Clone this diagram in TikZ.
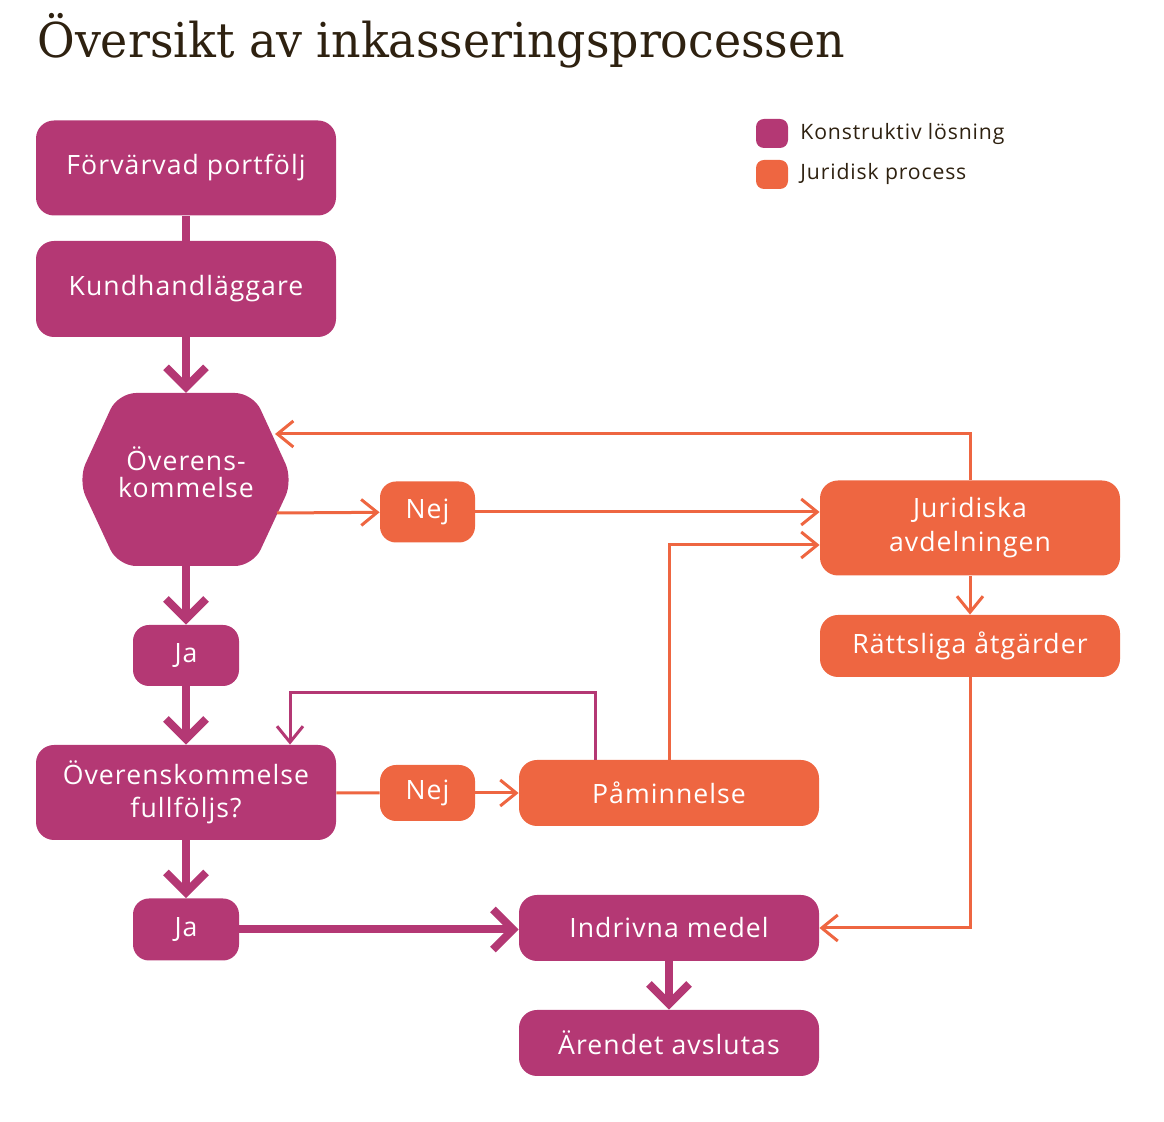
\documentclass[tikz,border=0pt]{standalone}
\usepackage{fontspec}
\setmainfont[LetterSpace=4.0]{Open Sans}
\newfontfamily\titlefont{DejaVu Serif}
\usetikzlibrary{arrows.meta,positioning}
\definecolor{konstr}{HTML}{B43874}
\definecolor{jurid}{HTML}{EE6641}
\definecolor{rubrik}{HTML}{2E2110}
\newcommand{\boxfont}{\fontsize{13.3}{16.5}\selectfont}

\begin{document}
\begin{tikzpicture}[x=0.5pt,y=-0.5pt,
box/.style={fill=konstr,text=white,rounded corners=9pt,minimum width=150pt,minimum height=47.5pt,align=center,font=\boxfont},
jbox/.style={box,fill=jurid},
small/.style={minimum width=47.5pt,minimum height=30.5pt,rounded corners=8pt},
fat/.style={konstr,line width=4pt},
fatto/.style={fat,-{Straight Barb[length=10pt,width=20pt,sharp]}},
law/.style={jurid,line width=1.5pt},
lawto/.style={law,-{Straight Barb[length=8pt,width=13pt,sharp]}}]
\useasboundingbox (0,0) rectangle (1164,1122);
\node[anchor=base west,inner sep=0pt,text=rubrik,font=\titlefont\fontsize{24}{28}\selectfont] (title) at (37,58) {\scalebox{0.956}[1]{Översikt av inkasseringsprocessen}};

% legend
\node[fill=konstr,rounded corners=4pt,minimum width=16pt,minimum height=14.5pt] (legk) at (772,133.5) {};
\node[fill=jurid,rounded corners=4pt,minimum width=16pt,minimum height=14.5pt] (legj) at (772,174.5) {};
\node[right=2.5pt of legk,text=rubrik,font=\fontsize{10.6}{12}\selectfont] {Konstruktiv lösning};
\node[right=2.5pt of legj,text=rubrik,font=\fontsize{10.6}{12}\selectfont] {Juridisk process};

% left column
\node[box] (portf) at (186,168) {Förvärvad portfölj};
\node[box,minimum height=48pt] (kund) at (186,289) {Kundhandläggare};
\fill[konstr,rounded corners=9pt] (78,480) -- (118,393) -- (253,393) -- (293,480) -- (253,566) -- (118,566) -- cycle;
\node[text=white,align=center,font=\fontsize{13.3}{13.5}\selectfont,minimum width=107.5pt,minimum height=80pt] (agree) at (186,472) {Överens-\\kommelse};
\coordinate (agreeout) at (277,513);
\coordinate (agreein) at (275,434);
\node[box,small,minimum width=53pt] (ja1) at (186,655.5) {Ja};
\node[box] (agreeq) at (186,792.5) {Överenskommelse\\fullföljs?};
\node[box,small,minimum width=53pt,minimum height=31pt] (ja2) at (186,929.5) {Ja};

% middle
\node[jbox,small] (nej1) at (427.5,512) {Nej};
\node[jbox,small,minimum height=28pt] (nej2) at (427.5,793) {Nej};
\node[jbox,minimum height=33pt] (pamin) at (669,793) {Påminnelse};
\node[box,minimum height=33pt] (indr) at (669,928) {Indrivna medel};
\node[box,minimum height=33pt] (arend) at (669,1043) {Ärendet avslutas};

% right
\node[jbox,font=\fontsize{13.3}{17}\selectfont] (jur) at (970,528) {Juridiska\\avdelningen};
\node[jbox,minimum height=31pt] (ratt) at (970,646) {Rättsliga åtgärder};

\draw[fat] (portf) -- (kund);
\draw[fatto] (kund) -- (186,393);
\draw[fatto] (186,566) -- (ja1);
\draw[fatto] (ja1) -- (agreeq);
\draw[fatto] (agreeq) -- (ja2);
\draw[fatto] (ja2) -- (ja2 -| indr.west);
\draw[fatto] (indr) -- (arend);
\draw[lawto] (agreeout) -- (nej1);
\draw[lawto] (nej1) -- (nej1 -| jur.west);
\draw[lawto] (jur) |- (agreein);
\draw[lawto] (jur) -- (ratt);
\draw[lawto] (ratt) |- (indr);
\draw[law] (agreeq) -- (nej2);
\draw[lawto] (nej2) -- (pamin);
\draw[lawto] (pamin) |- ([yshift=-8.5pt]jur.west);
\draw[lawto,konstr] ([xshift=-37pt]pamin.north) |- ([xshift=52pt,yshift=26pt]agreeq.north) -- ([xshift=52pt]agreeq.north);
\end{tikzpicture}
\end{document}
